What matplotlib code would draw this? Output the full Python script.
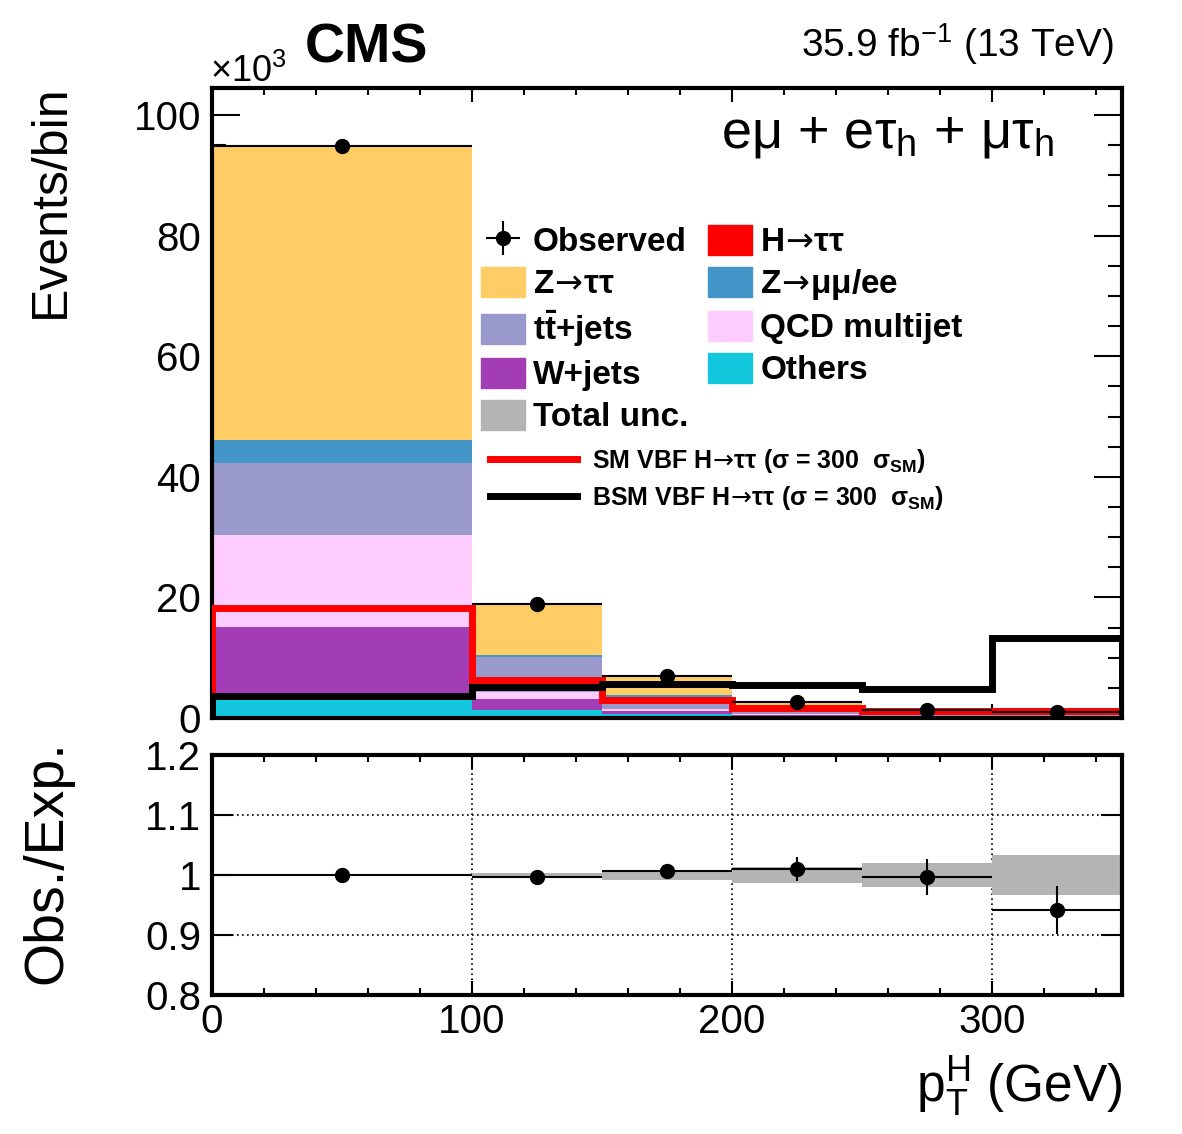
import numpy as np
import matplotlib
matplotlib.use("Agg")
import matplotlib.pyplot as plt
from matplotlib.patches import Patch
from matplotlib.lines import Line2D
from matplotlib.ticker import MultipleLocator

plt.rcParams['font.family'] = ['Liberation Sans', 'DejaVu Sans']
plt.rcParams['mathtext.fontset'] = 'custom'
plt.rcParams['mathtext.rm'] = 'Liberation Sans'
plt.rcParams['mathtext.it'] = 'Liberation Sans:italic'
plt.rcParams['mathtext.bf'] = 'Liberation Sans:bold'
plt.rcParams['mathtext.sf'] = 'DejaVu Sans'

# pT(H) bin edges in GeV
edges = np.array([0, 100, 150, 200, 250, 300, 350])

# stacked backgrounds, events/bin in units of 10^3 (bottom to top)
others = [3.0, 1.4, 0.7, 0.35, 0.15, 0.13]
wjets = [12.1, 1.8, 0.5, 0.2, 0.1, 0.08]
qcd = [15.2, 1.1, 0.3, 0.15, 0.07, 0.05]
ttbar = [12.0, 5.9, 2.0, 0.8, 0.4, 0.35]
zll = [3.8, 0.3, 0.3, 0.1, 0.05, 0.04]
ztt = [48.6, 8.2, 3.0, 1.0, 0.5, 0.41]
htt = [0.3, 0.1, 0.05, 0.03, 0.02, 0.02]

observed = [94.9, 18.9, 6.9, 2.66, 1.29, 1.02]
observed_err = [0.3, 0.14, 0.08, 0.05, 0.04, 0.03]

# signal templates scaled to 300 x sigma_SM
sm_vbf = [18.3, 6.3, 3.0, 1.6, 1.1, 1.1]
bsm_vbf = [3.7, 5.1, 5.7, 5.5, 4.8, 13.2]

# ratio panel
ratio = [1.000, 0.997, 1.007, 1.010, 0.997, 0.941]
ratio_err = [0.001, 0.002, 0.004, 0.02, 0.03, 0.04]
total_unc = [0.002, 0.004, 0.008, 0.013, 0.02, 0.033]
ratio_ticks = [0.8, 0.9, 1.0, 1.1, 1.2]
ratio_ticklabels = ['0.8', '0.9', '1', '1.1', '1.2']

ARROW = r'$\!\mathsf{\rightarrow}\!$'

stack = [
    (others, '#13C8DC'),
    (wjets, '#A33DB5'),
    (qcd, '#FFCCFF'),
    (ttbar, '#9999CC'),
    (zll, '#4496C8'),
    (ztt, '#FFCC66'),
    (htt, '#FF0000'),
]

centers = 0.5 * (edges[1:] + edges[:-1])
half_widths = 0.5 * np.diff(edges)

fig = plt.figure(figsize=(11.82, 11.34), dpi=100)
ax = fig.add_axes([0.1794, 0.3668, 0.7699, 0.5556])
ax2 = fig.add_axes([0.1794, 0.1226, 0.7699, 0.2116])

# stacked histogram
bottom = np.zeros(len(centers))
for vals, col in stack:
    top = bottom + np.array(vals)
    ax.stairs(top, edges, baseline=bottom, fill=True, color=col, lw=0, zorder=2)
    bottom = top

ax.stairs(sm_vbf, edges, baseline=0, color='#FF0000', lw=5, zorder=3)
ax.stairs(bsm_vbf, edges, baseline=0, color='black', lw=5, zorder=3)

obs = ax.errorbar(centers, observed, xerr=half_widths, yerr=observed_err, fmt='o',
                  color='black', ms=10, elinewidth=1.5, capsize=0, zorder=5)

ax.set_xlim(0, 350)
ax.set_ylim(0, 104.5)
ax.set_yticks([0, 20, 40, 60, 80, 100])
ax.yaxis.set_minor_locator(MultipleLocator(5))
ax.xaxis.set_major_locator(MultipleLocator(100))
ax.xaxis.set_minor_locator(MultipleLocator(20))
ax.tick_params(axis='both', which='both', direction='in', top=True, right=True, width=1.5)
ax.tick_params(axis='y', which='major', length=20, labelsize=29, pad=8)
ax.tick_params(axis='y', which='minor', length=10)
ax.tick_params(axis='x', which='major', length=10, labelbottom=False)
ax.tick_params(axis='x', which='minor', length=5)
for s in ax.spines.values():
    s.set_linewidth(3)

ax.set_ylabel('Events/bin', fontsize=36, loc='top')
ax.yaxis.set_label_coords(-0.152, 1.005)

# legends
col1 = [obs,
        Patch(color='#FFCC66'), Patch(color='#9999CC'), Patch(color='#A33DB5'),
        Patch(color='#B4B4B4')]
lab1 = ['Observed', 'Z' + ARROW + 'ττ', r'$\mathbf{t\bar{t}}$+jets', 'W+jets', 'Total unc.']
col2 = [Patch(color='#FF0000'), Patch(color='#4496C8'), Patch(color='#FFCCFF'),
        Patch(color='#13C8DC')]
lab2 = ['H' + ARROW + 'ττ', 'Z' + ARROW + 'μμ/ee', 'QCD multijet', 'Others']
leg = ax.legend(col1 + col2, lab1 + lab2, ncol=2, loc='upper left',
                bbox_to_anchor=(0.296, 0.783), frameon=False, borderpad=0,
                prop={'size': 24, 'weight': 'bold'}, handlelength=1.3,
                handleheight=1.0, handletextpad=0.25, labelspacing=0.26,
                columnspacing=0.6, borderaxespad=0)
ax.add_artist(leg)

line_handles = [Line2D([], [], color='#FF0000', lw=5), Line2D([], [], color='black', lw=5)]
line_labels = ['SM VBF H' + ARROW + r'ττ (σ = 300  σ$_{\mathbf{SM}}$)',
               'BSM VBF H' + ARROW + r'ττ (σ = 300  σ$_{\mathbf{SM}}$)']
ax.legend(line_handles, line_labels, loc='upper left', bbox_to_anchor=(0.305, 0.43),
          frameon=False, borderpad=0, borderaxespad=0,
          prop={'size': 18, 'weight': 'bold'}, handlelength=3.5,
          handletextpad=0.6, labelspacing=0.35)

ax.text(0.925, 0.905, 'eμ + eτ$_{\\mathrm{h}}$ + μτ$_{\\mathrm{h}}$', transform=ax.transAxes,
        ha='right', va='baseline', fontsize=39)

fig.text(0.178, 0.928, r'$\times$10$^{3}$', fontsize=26, ha='left', va='baseline')
fig.text(0.258, 0.945, 'CMS', fontsize=40, fontweight='bold', ha='left', va='baseline')
fig.text(0.942, 0.950, r'35.9 fb$^{-1}$ (13 TeV)', fontsize=28, ha='right', va='baseline')

# ratio panel
ax2.stairs(np.ones(6) + np.array(total_unc), edges, baseline=np.ones(6) - np.array(total_unc),
           fill=True, color='#B4B4B4', lw=0, zorder=1)
ax2.errorbar(centers, ratio, xerr=half_widths, yerr=ratio_err, fmt='o', color='black',
             ms=10, elinewidth=1.5, capsize=0, zorder=5)
ax2.set_xlim(0, 350)
ax2.set_ylim(0.8, 1.2)
ax2.set_yticks(ratio_ticks)
ax2.set_yticklabels(ratio_ticklabels)
ax2.xaxis.set_major_locator(MultipleLocator(100))
ax2.xaxis.set_minor_locator(MultipleLocator(20))
ax2.grid(True, which='major', color='black', linestyle=(0, (1, 2)), lw=1.2, zorder=0)
ax2.set_axisbelow(True)
ax2.tick_params(axis='both', which='both', direction='in', top=True, right=True, width=1.5)
ax2.tick_params(axis='y', which='major', length=15, labelsize=29, pad=8)
ax2.tick_params(axis='x', which='major', length=10, labelsize=29, pad=6)
ax2.tick_params(axis='x', which='minor', length=5)
for s in ax2.spines.values():
    s.set_linewidth(3)

ax2.set_ylabel('Obs./Exp.', fontsize=40, loc='top')
ax2.yaxis.set_label_coords(-0.152, 1.06)
ax2.set_xlabel(r'$\mathrm{p}_{\mathrm{T}}^{\mathrm{H}}$ (GeV)', fontsize=37, loc='right')
ax2.xaxis.set_label_coords(1.0, -0.25)

fig.savefig('out.png', dpi=100)
